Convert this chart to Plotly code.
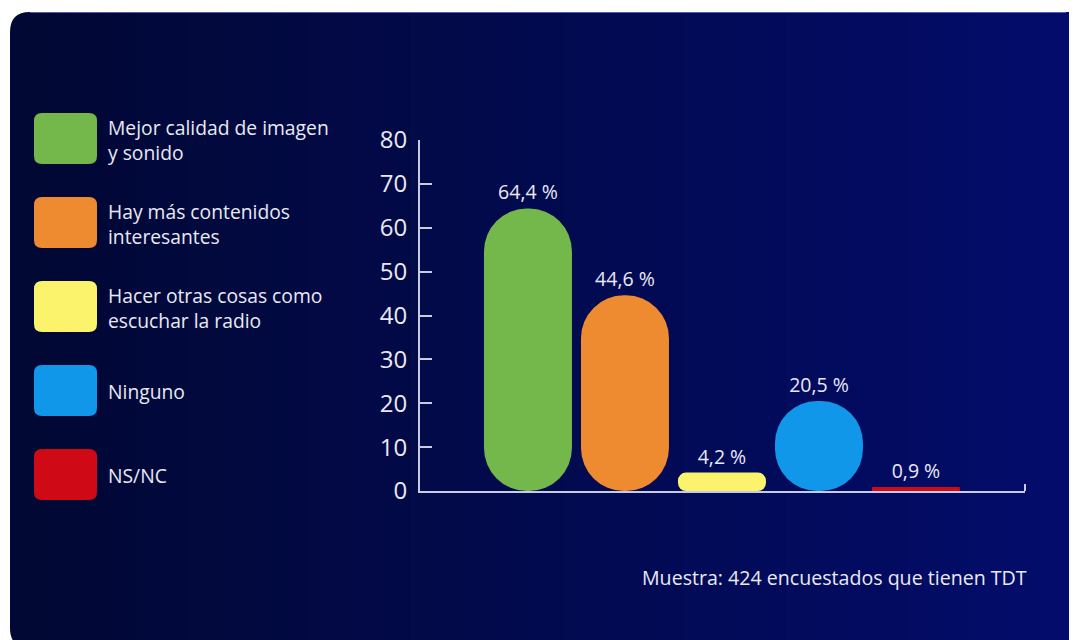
import plotly.graph_objects as go

# ---------------- data ----------------
categories = ["Mejor calidad de imagen y sonido",
              "Hay más contenidos interesantes",
              "Hacer otras cosas como escuchar la radio",
              "Ninguno",
              "NS/NC"]
legend_labels = ["Mejor calidad de imagen<br>y sonido",
                 "Hay más contenidos<br>interesantes",
                 "Hacer otras cosas como<br>escuchar la radio",
                 "Ninguno",
                 "NS/NC"]
values = [64.4, 44.6, 4.2, 20.5, 0.9]
colors = ["#74b84b", "#ee8a2f", "#fbf36c", "#1197ea", "#cf0a16"]
y_ticks = [0, 10, 20, 30, 40, 50, 60, 70, 80]
footnote = "Muestra: 424 encuestados que tienen TDT"

# ---------------- layout geometry (reference pixels) ----------------
REF_W, REF_H = 1077, 640
OFF = 8  # page body margin
W, H = REF_W - OFF, REF_H - OFF
PL, PR, PT, PB = 420, 1025, 140, 491
Y_MAX = 80
X_RANGE = [-1.113, 5.124]
BAR_W = 0.907
FONT = "Open Sans"
TXT = "#e9e9f3"
AXC = "#c9cbe6"


def px(x):
    return (x - PL) / (PR - PL)


def py(y):
    return (PB - y) / (PB - PT)


def rr_path(x0, y0, x1, y1, r):
    """Rounded rectangle in pixel coords -> SVG path in paper coords."""
    def p(x, y):
        return f"{px(x):.6f},{py(y):.6f}"
    return (f"M {p(x0 + r, y0)} L {p(x1 - r, y0)} Q {p(x1, y0)} {p(x1, y0 + r)} "
            f"L {p(x1, y1 - r)} Q {p(x1, y1)} {p(x1 - r, y1)} "
            f"L {p(x0 + r, y1)} Q {p(x0, y1)} {p(x0, y1 - r)} "
            f"L {p(x0, y0 + r)} Q {p(x0, y0)} {p(x0 + r, y0)} Z")


shapes = []

# ---- background panel with horizontal gradient ----
C_LEFT = (1, 8, 52)
C_RIGHT = (3, 12, 106)


def mix(t):
    return "rgb(%d,%d,%d)" % tuple(round(a + (b - a) * t) for a, b in zip(C_LEFT, C_RIGHT))


shapes.append(dict(type="path", xref="paper", yref="paper", layer="below",
                   path=rr_path(10, 12, 1082, 648, 20), fillcolor=mix(0), line=dict(width=0)))
shapes.append(dict(type="path", xref="paper", yref="paper", layer="below",
                   path=rr_path(1000, 12, 1082, 648, 13), fillcolor=mix(1), line=dict(width=0)))
n_strips = 60
sx0, sx1 = 32, 1060
for i in range(n_strips):
    a = sx0 + (sx1 - sx0) * i / n_strips
    b = sx0 + (sx1 - sx0) * (i + 1) / n_strips + 1
    t = (i + 0.5) / n_strips
    shapes.append(dict(type="rect", xref="paper", yref="paper", layer="below",
                       x0=px(a), x1=px(b), y0=py(12), y1=py(648),
                       fillcolor=mix(t), line=dict(width=0)))
shapes.append(dict(type="line", xref="paper", yref="paper", layer="below",
                   x0=px(30), x1=px(1066), y0=py(12.5), y1=py(12.5),
                   line=dict(color="rgba(120,130,210,0.7)", width=1)))

# ---- custom legend (big rounded swatches) ----
annotations = []
LEG_X0, LEG_X1 = 34, 97
LEG_TOP, LEG_STEP, LEG_H = 113, 84, 51
for i, (lab, col) in enumerate(zip(legend_labels, colors)):
    top = LEG_TOP + i * LEG_STEP
    shapes.append(dict(type="path", xref="paper", yref="paper", layer="below",
                       path=rr_path(LEG_X0, top, LEG_X1, top + LEG_H, 8),
                       fillcolor=col, line=dict(width=0)))
    annotations.append(dict(xref="paper", yref="paper", x=px(106), y=py(top + LEG_H / 2 + 1),
                            xanchor="left", yanchor="middle", align="left", showarrow=False,
                            text=lab, font=dict(family=FONT, size=19.3, color=TXT)))

# footnote
annotations.append(dict(xref="paper", yref="paper", x=px(1029), y=py(577),
                        xanchor="right", yanchor="middle", showarrow=False, text=footnote,
                        font=dict(family=FONT, size=19.6, color=TXT)))

# small tick at right end of x axis
shapes.append(dict(type="line", xref="x domain", yref="y", x0=1, x1=1, y0=0, y1=1.6,
                   line=dict(color=AXC, width=2), layer="above"))

# ---------------- bars (pill shaped, rounded at both ends) ----------------
px_per_unit = (PB - PT) / Y_MAX
bar_px = BAR_W * (PR - PL) / (X_RANGE[1] - X_RANGE[0])

fig = go.Figure()
for cat, v, col in zip(categories, values, colors):
    r = min(bar_px / 2, 0.47 * v * px_per_unit)
    label = f"{v:.1f}".replace(".", ",") + " %"
    fig.add_trace(go.Bar(x=[cat], y=[v], base=[0], width=BAR_W,
                         marker=dict(color=col, line=dict(width=0), cornerradius=r),
                         text=[label], textposition="outside", cliponaxis=False,
                         outsidetextfont=dict(family=FONT, size=19.5, color=TXT),
                         hoverinfo="skip", showlegend=False))

fig.update_layout(
    width=W, height=H,
    margin=dict(l=PL - OFF, r=REF_W - PR, t=PT - OFF, b=REF_H - PB, pad=0),
    paper_bgcolor="white", plot_bgcolor="rgba(0,0,0,0)",
    barmode="overlay", showlegend=False,
    shapes=shapes, annotations=annotations,
    font=dict(family=FONT, color=TXT),
    xaxis=dict(type="category", categoryorder="array", categoryarray=categories,
               range=X_RANGE, showticklabels=False, ticks="", showgrid=False, zeroline=False,
               showline=True, linecolor=AXC, linewidth=2, fixedrange=True),
    yaxis=dict(range=[0, Y_MAX], tickvals=y_ticks, ticktext=[str(t) for t in y_ticks],
               ticks="inside", ticklen=12, tickwidth=2, tickcolor=AXC,
               showline=True, linecolor=AXC, linewidth=2, showgrid=False, zeroline=False,
               tickfont=dict(family=FONT, size=24, color=TXT), ticklabelstandoff=6,
               fixedrange=True),
)

fig.write_html("out.html")
